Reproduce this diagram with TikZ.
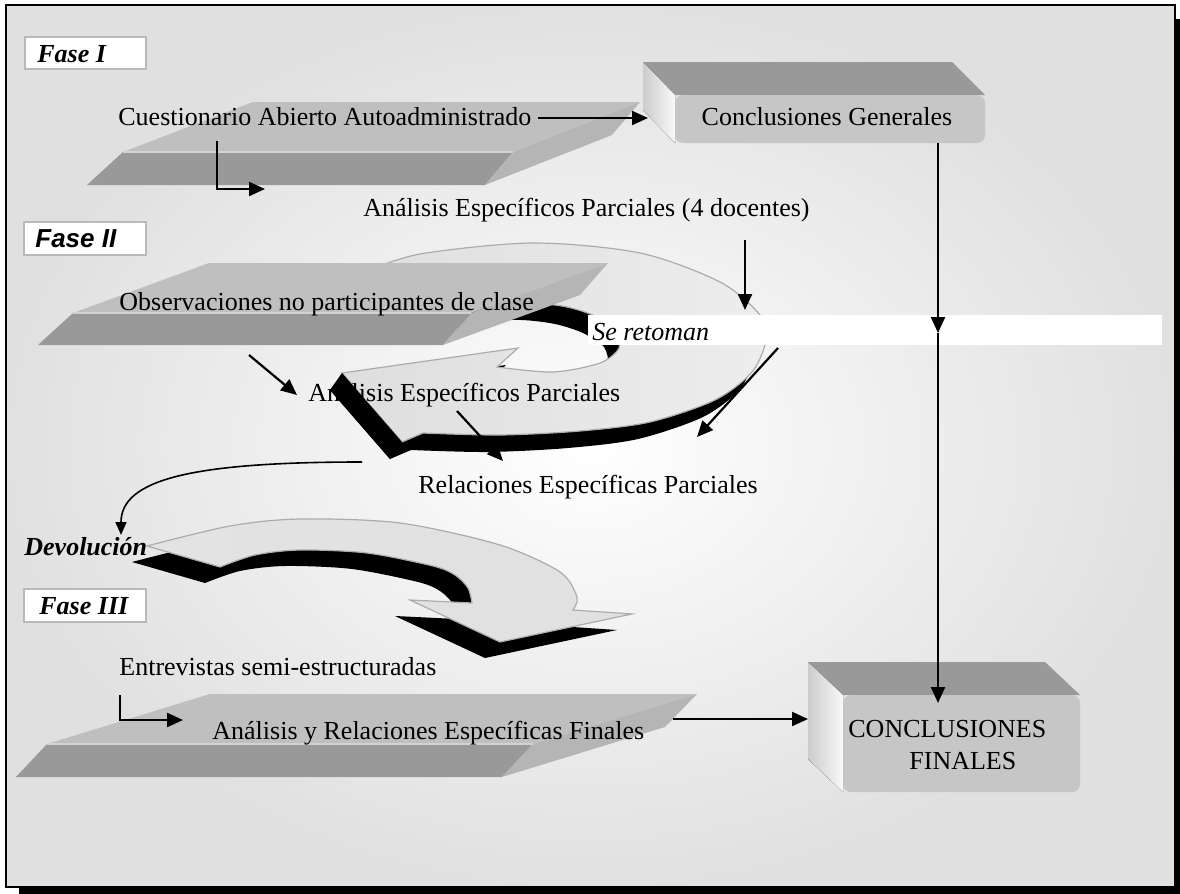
\documentclass[tikz,border=0pt]{standalone}
\usepackage{fontspec}
\setmainfont{Liberation Serif}
\newfontfamily\sansarial{Liberation Sans}
\usetikzlibrary{arrows.meta,shadings}
\begin{document}
\begin{tikzpicture}[x=0.5pt,y=-0.5pt,
  every node/.style={inner sep=0pt, font=\fontsize{13}{15.6}\selectfont},
  arr/.style={line width=1.1pt, -{Triangle[length=8pt,width=7pt]}},
  thinarr/.style={line width=0.8pt, -{Triangle[length=6.5pt,width=5.5pt]}},
  fasebox/.style={draw=gray!55, line width=0.8pt, fill=white},
  fasetxt/.style={anchor=base west, font=\fontsize{13}{15.6}\selectfont\bfseries\itshape},
  txt/.style={anchor=base west},
  slabtop/.style={fill=gray!50},
  slabfront/.style={fill=gray!80},
  slabside/.style={fill=gray!58},
  boxfront/.style={fill=gray!45, rounded corners=4pt},
  boxtop/.style={fill=gray!80},
  boxside/.style={left color=gray!40, right color=gray!5},
  ringpath/.style={insert path={
     plot[smooth] coordinates {(365,272) (420,254) (533,243) (640,253) (720,282) (760,315) (766,340) (752,372) (715,400) (650,422) (580,431) (500,435) (423,433)}
     -- (402,442) -- (342,373) -- (518,348) -- (497,367)
     -- plot[smooth] coordinates {(497,367) (553,372) (600,363) (619,348) (616,330) (595,316) (567,307) (533,303) (495,305) (455,315)}
     -- cycle}},
  devpath/.style={insert path={
     plot[smooth] coordinates {(147,546) (230,526) (300,519) (400,523) (500,545) (560,572) (577,597) (573,610)}
     -- (632,614) -- (500,642) -- (410,600) -- (472,603)
     -- plot[smooth] coordinates {(472,603) (468,588) (455,575) (433,566) (367,553) (300,550) (255,555) (220,567)}
     -- cycle}}
]
\useasboundingbox (0,0) rectangle (1180,894);
% frame with shadow
\fill[black] (19,19) rectangle (1180,894);
\shadedraw[draw=black, line width=1pt, inner color=white, outer color=gray!24] (6,5) rectangle (1175,887);

% Fase I
\draw[fasebox] (25,37) rectangle (146,69);
\node[fasetxt] (f1) at (37,62) {Fase I};

% slab A
\fill[slabtop] (123,152) -- (513,152) -- (640,102) -- (253,102) -- cycle;
\fill[slabfront] (123,152) -- (513,152) -- (485,185) -- (87,185) -- cycle;
\fill[slabside] (513,152) -- (640,102) -- (612,135) -- (485,185) -- cycle;
\draw[gray!35, line width=0.6pt] (123,152) -- (513,152);
\node[txt] (cuest) at (118,126) {Cuestionario Abierto Autoadministrado};

% Conclusiones Generales box
\fill[boxtop] (675,95) -- (985,95) -- (952,62) -- (643,62) -- cycle;
\fill[boxside] (643,62) -- (675,95) -- (675,143) -- (643,110) -- cycle;
\fill[boxfront] (675,95) rectangle (985,143);
\node[anchor=base] (cg) at (827,125) {Conclusiones Generales};

\coordinate (a1s) at ([xshift=3pt]cuest.east |- 0,118);
\coordinate (a1e) at (648,118);
\draw[arr] (a1s) -- (a1e);
\coordinate (l1s) at (217,141);
\coordinate (l1e) at (265,189);
\draw[arr] (l1s) |- (l1e);

\node[txt] (aep4) at (363,216) {Análisis Específicos Parciales (4 docentes)};

% Fase II
\draw[fasebox] (24,222) rectangle (146,255);
\node[fasetxt, font=\fontsize{13}{15.6}\sansarial\bfseries\itshape] (f2) at (35,247) {Fase II};

% circular arrow
\fill[black, shift={(-12,17)}, ringpath];
\draw[draw=gray!65, line width=0.6pt, left color=gray!26, middle color=white, right color=gray!14, ringpath];
\node[txt] (aep) at (308,401) {Análisis Específicos Parciales};
\fill[black] (342,373) -- (330,390) -- (390,459) -- (402,442) -- cycle;

% slab B
\fill[slabtop] (73,313) -- (471,313) -- (608,263) -- (209,263) -- cycle;
\fill[slabfront] (73,313) -- (471,313) -- (443,345) -- (38,345) -- cycle;
\fill[slabside] (471,313) -- (608,263) -- (580,295) -- (443,345) -- cycle;
\draw[gray!35, line width=0.6pt] (73,313) -- (471,313);
\node[txt] (obs) at (119,310) {Observaciones no participantes de clase};

% Se retoman bar
\fill[white] (588,315) rectangle (1162,345);
\node[txt, font=\fontsize{13}{15.6}\selectfont\itshape] (ret) at (592,340) {Se retoman};

\coordinate (a4s) at (745,240);
\coordinate (a4e) at (745,310);
\draw[arr] (a4s) -- (a4e);
\coordinate (a5s) at (778,348);
\coordinate (a5e) at (697,437);
\draw[arr] (a5s) -- (a5e);
\coordinate (a6s) at (249,355);
\coordinate (a6e) at (297,395);
\draw[arr] (a6s) -- (a6e);
\coordinate (a7s) at (457,411);
\coordinate (a7e) at (503,461);
\draw[arr] (a7s) -- (a7e);

\node[txt] (rel) at (418,493) {Relaciones Específicas Parciales};

% Devolucion
\coordinate (d1s) at (362,462);
\coordinate (d1e) at (121,535);
\draw[thinarr] (d1s) .. controls (190,462) and (121,480) .. (d1e);
\fill[black, shift={(-15,16)}, devpath];
\draw[draw=gray!65, line width=0.6pt, left color=gray!22, middle color=white, right color=gray!24, devpath];
\node[fasetxt] (dev) at (24,555) {Devolución};

% Fase III
\draw[fasebox] (24,589) rectangle (146,622);
\node[fasetxt] (f3) at (39,614) {Fase III};
\node[txt] (ent) at (119,675) {Entrevistas semi-estructuradas};

% slab C
\fill[slabtop] (47,744) -- (533,744) -- (697,694) -- (210,694) -- cycle;
\fill[slabfront] (47,744) -- (533,744) -- (502,777) -- (16,777) -- cycle;
\fill[slabside] (533,744) -- (697,694) -- (665,727) -- (502,777) -- cycle;
\draw[gray!35, line width=0.6pt] (47,744) -- (533,744);
\node[txt] (arf) at (212,739) {Análisis y Relaciones Específicas Finales};

\coordinate (l2s) at (120,695);
\coordinate (l2e) at (183,720);
\draw[arr] (l2s) |- (l2e);

% final box
\fill[boxtop] (843,695) -- (1080,695) -- (1045,662) -- (808,662) -- cycle;
\fill[boxside] (808,662) -- (843,695) -- (843,792) -- (808,759) -- cycle;
\fill[boxfront] (843,695) rectangle (1080,792);
\node[txt] (fin1) at (848,737) {CONCLUSIONES};
\node[txt] (fin2) at (909,769) {FINALES};

\coordinate (a10s) at (673,719);
\coordinate (a10e) at (808,719);
\draw[arr] (a10s) -- (a10e);

% long vertical line
\coordinate (vs) at (938,143);
\coordinate (vm) at (938,333);
\coordinate (ve) at (938,703);
\draw[arr] (vs) -- (vm);
\draw[arr] (vm) -- (ve);
\end{tikzpicture}
\end{document}
